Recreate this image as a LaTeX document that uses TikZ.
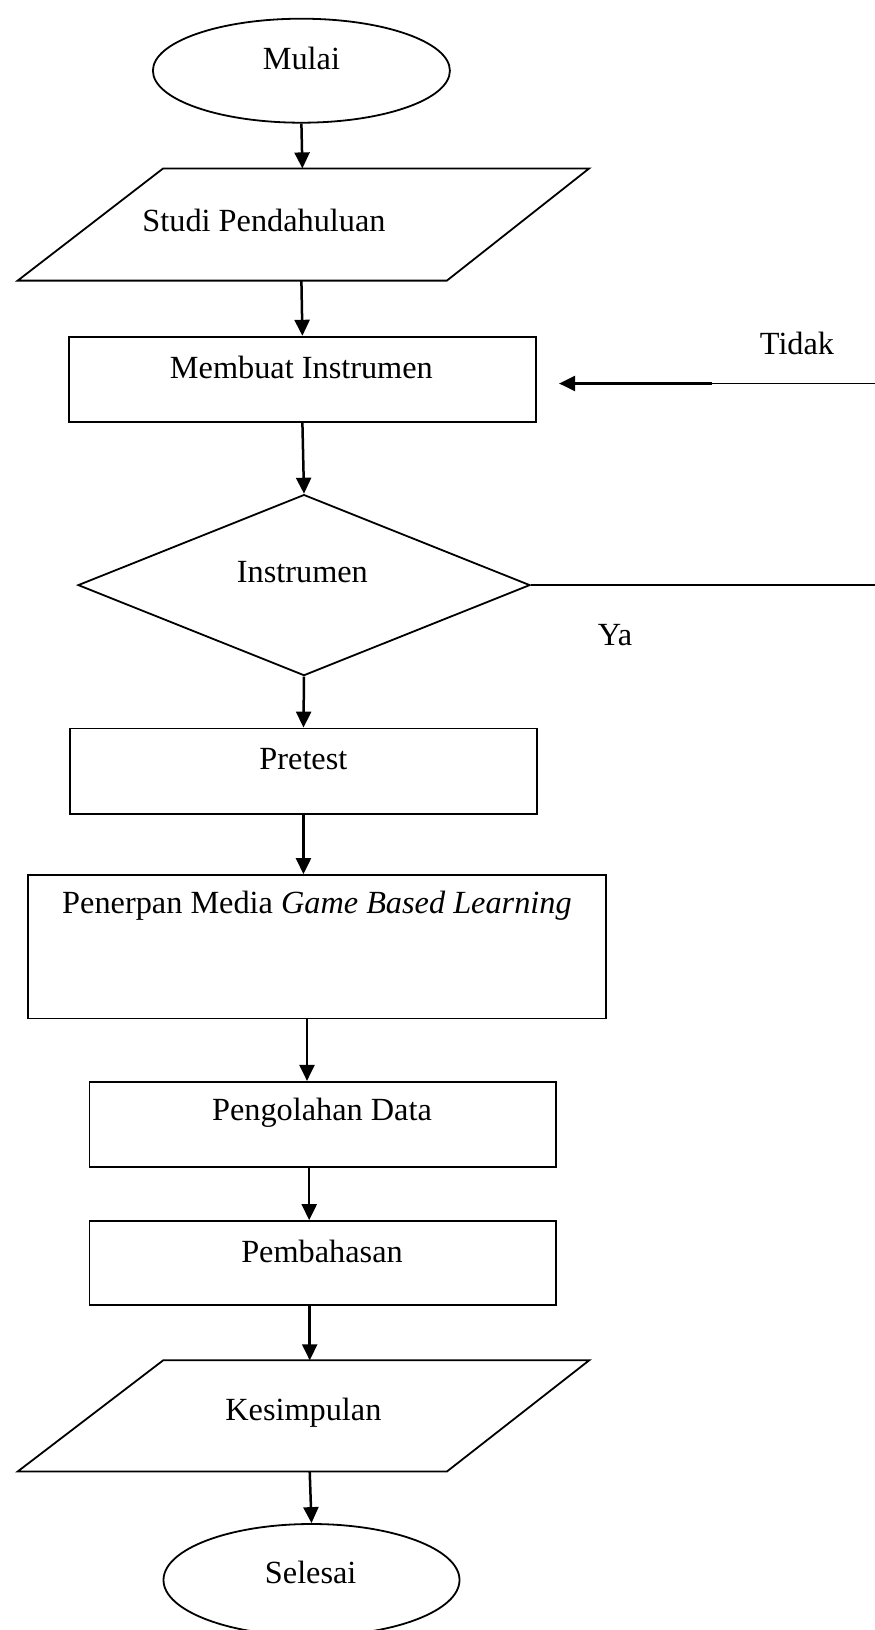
\documentclass[tikz,border=0pt]{standalone}
\usepackage{fontspec}
\setmainfont{Liberation Serif}
\usetikzlibrary{shapes.geometric,arrows.meta,calc}
\begin{document}
\begin{tikzpicture}[x=1pt,y=-1pt,
  shp/.style={draw=black,line width=1.8pt,line join=miter},
  box/.style={shp,rectangle,inner sep=0pt},
  oval/.style={shp,ellipse,inner sep=0pt},
  lbl/.style={font=\fontsize{32.3}{37}\selectfont,inner sep=0pt},
  arr/.style={line width=2.5pt,-{Triangle[length=16pt,width=15pt]}},
  thinline/.style={line width=1.4pt}]
\useasboundingbox (0,0) rectangle (875,1630);

% Mulai
\node[oval,minimum width=297pt,minimum height=104pt] (mulai) at (301.4,70.7) {};
\node[lbl] (tmulai) at (301.4,58.2) {Mulai};

% Studi Pendahuluan
\draw[shp] (163.2,168.4) -- (589.2,168.4) -- (446.9,280.6) -- (17.7,280.6) -- cycle;
\coordinate (studiT) at (302.4,168.4);
\coordinate (studiB) at (301.4,280.6);
\node[lbl] (tstudi) at (264,220.3) {Studi Pendahuluan};

% Membuat Instrumen
\node[box,minimum width=467.6pt,minimum height=85.2pt] (membuat) at (302.4,379.3) {};
\node[lbl] (tmembuat) at (301.4,367.9) {Membuat Instrumen};

% Instrumen decision
\node[shp,diamond,inner sep=0pt,minimum width=452pt,minimum height=181pt] (dec) at (304,585.1) {};
\node[lbl] (tdec) at (302.4,571.6) {Instrumen};

% Pretest
\node[box,minimum width=467.7pt,minimum height=85.2pt] (pretest) at (303.45,771.1) {};
\node[lbl] (tpretest) at (303.4,758.6) {Pretest};

% Penerapan
\node[box,minimum width=577.8pt,minimum height=143.4pt] (penerpan) at (317,946.7) {};
\node[lbl] (tpenerpan) at (317,906.2) {Penerpan Media \textit{Game Based Learning}};

% Pengolahan Data
\node[box,minimum width=466.6pt,minimum height=85.2pt] (olah) at (322.7,1124.4) {};
\node[lbl] (tolah) at (322,1113) {Pengolahan Data};

% Pembahasan
\node[box,minimum width=466.6pt,minimum height=84.2pt] (bahas) at (322.7,1263.1) {};
\node[lbl] (tbahas) at (322,1251.2) {Pembahasan};

% Kesimpulan
\draw[shp] (163.2,1360.3) -- (589.2,1360.3) -- (446.9,1471.5) -- (17.7,1471.5) -- cycle;
\coordinate (kesT) at (309.7,1360.3);
\coordinate (kesB) at (309.7,1471.5);
\node[lbl] (tkes) at (303.4,1412.3) {Kesimpulan};

% Selesai
\node[oval,minimum width=296pt,minimum height=112pt] (selesai) at (311.5,1580) {};
\node[lbl] (tselesai) at (310.7,1572.3) {Selesai};

% main flow
\draw[arr] (mulai.south) -- (studiT);
\draw[arr] (studiB) -- (membuat.north);
\draw[arr] (membuat.south) -- (dec.north);
\draw[arr] (dec.south) -- (pretest.north);
\draw[arr] (pretest.south) -- (pretest.south |- penerpan.north);
\draw[arr] ([xshift=-10pt]penerpan.south) -- ([xshift=-10pt]penerpan.south |- olah.north);
\draw[arr] ([xshift=-13.5pt]olah.south) -- ([xshift=-13.5pt]olah.south |- bahas.north);
\draw[arr] ([xshift=-13pt]bahas.south) -- (kesT);
\draw[arr] (kesB) -- (selesai.north);

% feedback (Tidak) and Ya
\coordinate (decE) at (876,585.1);
\draw[line width=2pt] (dec.east) -- (decE);
\coordinate (tE) at (876,383.5);
\coordinate (tJ) at (712,383.5);
\draw[thinline] (tE) -- (tJ);
\draw[arr] (tJ) -- ($(membuat.east |- tJ)+(22,0)$);
\node[lbl] (ttidak) at (797,343) {Tidak};
\node[lbl] (tya) at (615,635) {Ya};
\end{tikzpicture}
\end{document}
